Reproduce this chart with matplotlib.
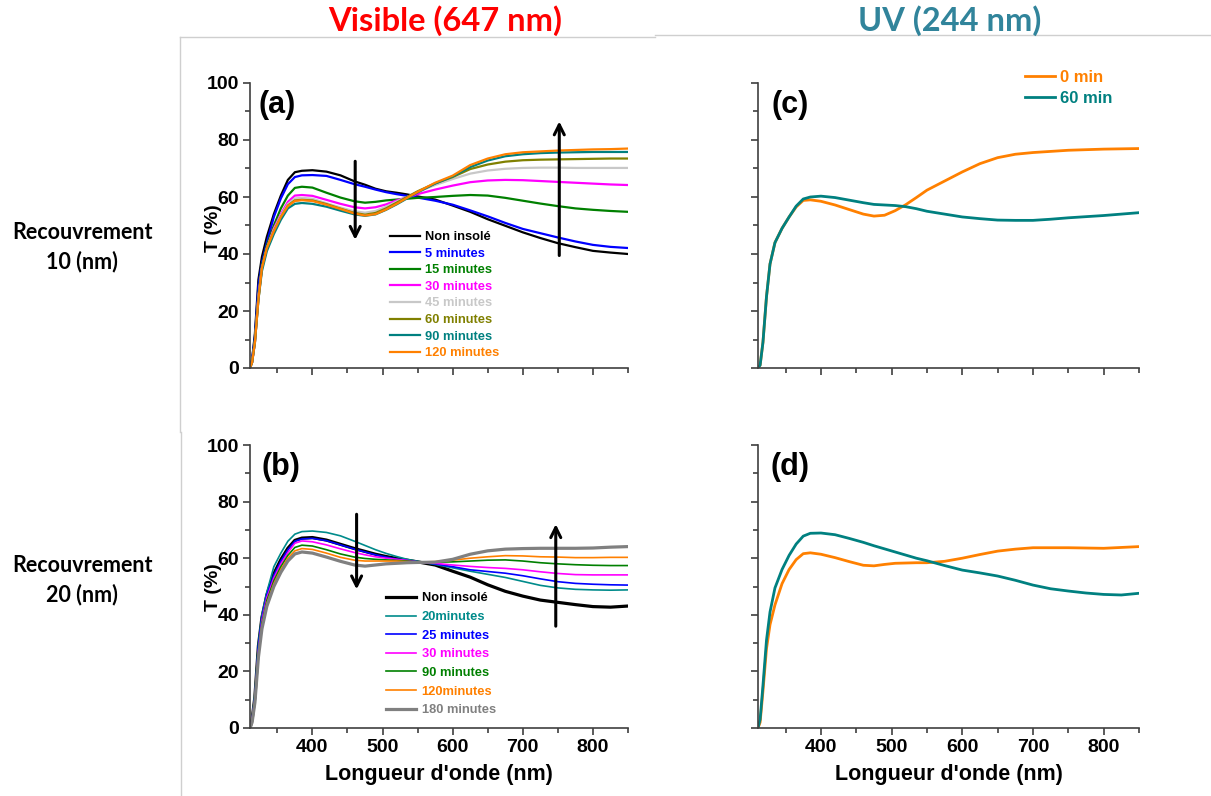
import matplotlib
matplotlib.use("Agg")
import matplotlib.pyplot as plt
from matplotlib.lines import Line2D

plt.rcParams['font.family'] = ['Liberation Sans', 'DejaVu Sans']
plt.rcParams['font.weight'] = 'bold'

# wavelength grid (nm) used for all curves
wl = [311, 314, 318, 323, 328, 335, 345, 355, 365, 375, 385, 400, 420, 440, 460, 475,
      490, 505, 520, 535, 550, 575, 600, 625, 650, 675, 700, 725, 750, 775, 800, 825, 850]

# panel (a): visible, 10 nm
a_labels = ["Non insolé", "5 minutes", "15 minutes", "30 minutes", "45 minutes",
            "60 minutes", "90 minutes", "120 minutes"]
a_colors = ["#000000", "#0000ff", "#008000", "#ff00ff", "#c8c8c8", "#808000", "#008080", "#ff8000"]
a_black = [0, 3, 12, 31, 39, 46, 54, 60.5, 66, 68.7, 69.2, 69.4, 68.9, 67.6, 65.5, 64.3,
           62.9, 62.0, 61.5, 60.9, 60.2, 59.1, 57.0, 54.8, 52.2, 49.9, 47.6, 45.6, 43.8, 42.4, 41.1, 40.5, 40.0]
a_5 = [0, 3, 11, 29, 37, 44, 53, 59.5, 64.5, 67.0, 67.6, 67.7, 67.4, 66.0, 64.5, 63.6,
       62.6, 61.7, 61.0, 60.4, 59.8, 58.7, 57.3, 55.3, 53.2, 50.9, 48.8, 47.3, 45.8, 44.4, 43.2, 42.5, 42.1]
a_15 = [0, 2, 10, 26, 36, 43, 50, 56, 60.5, 63.2, 63.6, 63.3, 61.5, 59.8, 58.5, 58.0,
        58.3, 58.8, 59.1, 59.4, 59.7, 60.0, 60.4, 60.7, 60.5, 59.7, 58.7, 57.7, 56.8, 56.0, 55.5, 55.1, 54.8]
a_30 = [0, 2, 9, 25, 35, 42, 49, 54, 58.3, 60.5, 60.7, 60.4, 59.0, 57.6, 56.4, 56.0,
        56.4, 57.4, 58.8, 59.9, 61.0, 62.6, 64.0, 65.2, 65.8, 66.0, 65.9, 65.6, 65.3, 65.0, 64.7, 64.4, 64.2]
a_45 = [0, 2, 9, 25, 35, 42, 48.5, 53.5, 57.5, 59.5, 59.7, 59.4, 57.8, 56.3, 55.0, 54.5,
        55.1, 56.6, 58.4, 60.0, 61.8, 64.2, 66.3, 68.2, 69.3, 69.9, 70.2, 70.3, 70.3, 70.2, 70.2, 70.2, 70.2]
a_60 = [0, 2, 9, 24, 35, 42, 48, 53, 57, 58.8, 59.0, 58.8, 57.5, 55.9, 54.4, 53.8,
        54.4, 56.0, 58.0, 60.0, 62.0, 64.8, 67.0, 69.8, 71.4, 72.4, 72.9, 73.1, 73.2, 73.3, 73.4, 73.5, 73.5]
a_90 = [0, 2, 9, 24, 34, 41, 47, 52, 56, 57.6, 57.9, 57.6, 56.6, 55.2, 53.9, 53.4,
        53.9, 55.5, 57.4, 59.5, 61.6, 64.7, 67.2, 70.5, 72.8, 74.3, 75.0, 75.4, 75.6, 75.7, 75.8, 75.8, 75.8]
a_120 = [0, 2, 9, 24, 35, 42, 48, 53, 56.8, 58.6, 58.9, 58.6, 57.3, 55.8, 54.2, 53.5,
         54.0, 55.6, 57.6, 59.7, 61.8, 65.0, 67.5, 71.2, 73.5, 75.0, 75.7, 76.0, 76.3, 76.5, 76.7, 76.8, 77.0]

# panel (b): visible, 20 nm
b_labels = ["Non insolé", "20minutes", "25 minutes", "30 minutes", "90 minutes",
            "120minutes", "180 minutes"]
b_colors = ["#000000", "#008b8b", "#0000ff", "#ff00ff", "#008000", "#ff8000", "#808080"]
b_widths = [2.3, 1.2, 1.2, 1.2, 1.2, 1.2, 2.3]
b_black = [0, 3, 11, 29, 39, 47, 54.5, 59.5, 63.5, 66.3, 67.1, 67.3, 66.4, 64.9, 63.4, 62.4,
           61.4, 60.6, 59.9, 59.3, 58.7, 57.6, 55.4, 53.3, 50.6, 48.3, 46.6, 45.2, 44.4, 43.6, 42.9, 42.7, 43.1]
b_20 = [0, 3, 12, 30, 40, 48, 57, 61.8, 66, 68.5, 69.4, 69.6, 69.1, 67.9, 66.0, 64.5,
        63.0, 61.7, 60.6, 59.6, 58.9, 57.8, 56.6, 55.4, 54.3, 53.2, 51.8, 50.4, 49.5, 49.0, 48.8, 48.7, 48.8]
b_25 = [0, 3, 11, 29, 39, 47, 54, 59, 63, 66, 66.8, 67.0, 66.2, 64.7, 63.2, 62.2,
        61.2, 60.4, 59.7, 59.2, 58.7, 58.0, 57.0, 55.9, 55.3, 54.7, 53.8, 52.7, 51.7, 51.1, 50.8, 50.6, 50.5]
b_30 = [0, 3, 10, 27, 38, 46, 53, 58, 62, 65.3, 66.1, 65.8, 64.7, 63.3, 62.0, 61.2,
        60.5, 60.0, 59.6, 59.2, 58.7, 58.2, 57.6, 57.1, 56.7, 56.4, 55.9, 55.2, 54.6, 54.2, 54.1, 54.1, 54.1]
b_90 = [0, 2, 10, 26, 37, 45, 52, 57, 61, 63.8, 64.6, 64.3, 63.0, 61.5, 60.4, 59.9,
        59.6, 59.4, 59.2, 59.0, 58.7, 58.6, 58.7, 59.0, 59.3, 59.4, 59.0, 58.4, 58.0, 57.7, 57.5, 57.4, 57.4]
b_120 = [0, 2, 9, 25, 36, 44, 51, 56, 60, 62.6, 63.4, 63.1, 61.8, 60.3, 59.3, 59.0,
         59.0, 59.0, 59.0, 58.8, 58.6, 58.8, 59.3, 60.0, 60.5, 60.9, 60.8, 60.5, 60.4, 60.2, 60.2, 60.3, 60.3]
b_180 = [0, 2, 9, 25, 35, 43, 50, 55, 59, 61.5, 62.2, 61.8, 60.4, 58.9, 57.6, 57.2,
         57.6, 58.0, 58.2, 58.4, 58.5, 58.6, 59.6, 61.4, 62.6, 63.2, 63.4, 63.5, 63.5, 63.5, 63.6, 63.9, 64.1]

# panels (c), (d): UV
uv_labels = ["0 min", "60 min"]
uv_colors = ["#ff8000", "#008080"]
c_0 = [0, 1, 9, 25, 36.5, 44, 49, 53, 56.5, 58.8, 59.0, 58.5, 57.2, 55.6, 54.0, 53.3,
       53.6, 55.2, 57.3, 59.8, 62.4, 65.6, 68.8, 71.7, 73.8, 75.0, 75.6, 76.0, 76.4, 76.6, 76.8, 76.9, 77.0]
c_60 = [0, 1, 9, 25, 36.5, 44, 49, 53, 56.8, 59.3, 60.0, 60.3, 59.8, 58.9, 58.0, 57.4,
        57.2, 57.0, 56.6, 55.9, 55.0, 54.0, 53.0, 52.4, 51.9, 51.8, 51.8, 52.2, 52.7, 53.1, 53.5, 54.0, 54.5]
d_0 = [0, 2, 13, 28, 36.5, 43.5, 51, 56, 59.5, 61.6, 61.9, 61.4, 60.2, 58.8, 57.5, 57.3,
       57.8, 58.2, 58.3, 58.4, 58.4, 58.9, 60.0, 61.3, 62.5, 63.2, 63.7, 63.7, 63.7, 63.6, 63.5, 63.8, 64.1]
d_60 = [0, 3, 15, 31, 41, 49.5, 56, 61, 65, 67.8, 68.8, 68.9, 68.3, 67.0, 65.6, 64.4,
        63.3, 62.2, 61.1, 60.0, 59.1, 57.4, 55.8, 54.8, 53.7, 52.2, 50.5, 49.2, 48.4, 47.7, 47.2, 47.0, 47.6]

W, H = 1211, 796


def px_axes(x0, y0, x1, y1):
    return [x0 / W, 1 - y1 / H, (x1 - x0) / W, (y1 - y0) / H]


def style_axes(ax, xlabels=True, ylabels=True):
    ax.set_xlim(311, 850)
    ax.set_ylim(0, 100)
    for s in ["top", "right"]:
        ax.spines[s].set_visible(False)
    for s in ["left", "bottom"]:
        ax.spines[s].set_color("#404040")
        ax.spines[s].set_linewidth(1.2)
    ax.set_xticks([400, 500, 600, 700, 800])
    ax.set_xticks([350, 450, 550, 650, 750, 850], minor=True)
    ax.set_yticks([0, 20, 40, 60, 80, 100])
    ax.set_yticks([10, 30, 50, 70, 90], minor=True)
    ax.tick_params(which="major", direction="out", length=5, width=1.2, color="#404040",
                   labelsize=14, pad=3)
    ax.tick_params(which="minor", direction="out", length=3.5, width=1.2, color="#404040")
    if not xlabels:
        ax.set_xticklabels([])
    if not ylabels:
        ax.set_yticklabels([])
    for lab in ax.get_xticklabels() + ax.get_yticklabels():
        lab.set_fontweight("bold")


fig = plt.figure(figsize=(W / 100, H / 100), dpi=100)

ax_a = fig.add_axes(px_axes(250, 83, 628, 368))
ax_c = fig.add_axes(px_axes(758, 83, 1139, 368))
ax_b = fig.add_axes(px_axes(250, 445, 628, 728))
ax_d = fig.add_axes(px_axes(758, 445, 1139, 728))

arrow = dict(arrowstyle="->", lw=2.2, color="black", mutation_scale=18)

# (a)
for t, lab, col in zip([a_black, a_5, a_15, a_30, a_45, a_60, a_90, a_120], a_labels, a_colors):
    ax_a.plot(wl, t, color=col, lw=1.6, label=lab)
style_axes(ax_a, xlabels=False)
ax_a.set_ylabel("T (%)", fontsize=14, fontweight="bold")
ax_a.yaxis.set_label_coords(-0.074, 0.49)
ax_a.legend(loc="upper left", bbox_to_anchor=(0.37, 0.480), frameon=False,
            handlelength=2.3, handletextpad=0.45, labelspacing=0.35,
            borderpad=0, borderaxespad=0, labelcolor="linecolor",
            prop={"weight": "bold", "size": 9.3})
ax_a.annotate("", xy=(461, 44), xytext=(461, 73.5), arrowprops=arrow)
ax_a.annotate("", xy=(752, 87.5), xytext=(752, 38.5), arrowprops=arrow)

# (b)
for t, lab, col, lw in zip([b_black, b_20, b_25, b_30, b_90, b_120, b_180], b_labels, b_colors, b_widths):
    ax_b.plot(wl, t, color=col, lw=lw, label=lab)
style_axes(ax_b)
ax_b.set_ylabel("T (%)", fontsize=14, fontweight="bold")
ax_b.yaxis.set_label_coords(-0.074, 0.498)
ax_b.set_xlabel("Longueur d'onde (nm)", fontsize=15.5, fontweight="bold", labelpad=6)
ax_b.legend(loc="upper left", bbox_to_anchor=(0.36, 0.479), frameon=False,
            handlelength=2.3, handletextpad=0.45, labelspacing=0.51,
            borderpad=0, borderaxespad=0, labelcolor="linecolor",
            prop={"weight": "bold", "size": 9.3})
ax_b.annotate("", xy=(463, 48), xytext=(463, 76.5), arrowprops=arrow)
ax_b.annotate("", xy=(747, 73), xytext=(747, 35), arrowprops=arrow)

# (c)
for t, lab, col in zip([c_0, c_60], uv_labels, uv_colors):
    ax_c.plot(wl, t, color=col, lw=2, label=lab)
style_axes(ax_c, xlabels=False, ylabels=False)
ax_c.legend(loc="upper left", bbox_to_anchor=(0.70, 1.045), frameon=False,
            handlelength=1.8, handletextpad=0.3, labelspacing=0.35,
            borderpad=0, borderaxespad=0, labelcolor="linecolor",
            prop={"weight": "bold", "size": 12})

# (d)
for t, lab, col in zip([d_0, d_60], uv_labels, uv_colors):
    ax_d.plot(wl, t, color=col, lw=2, label=lab)
style_axes(ax_d, ylabels=False)
ax_d.set_xlabel("Longueur d'onde (nm)", fontsize=15.5, fontweight="bold", labelpad=6)

# panel letters
for x, y, s in [(277, 105, "(a)"), (281, 467, "(b)"), (790, 105, "(c)"), (790, 467, "(d)")]:
    fig.text(x / W, 1 - y / H, s, fontsize=22, fontweight="bold", ha="center", va="center")

# column titles and row labels
fig.text(445 / W, 1 - 21 / H, "Visible (647 nm)", color="#ff0000", fontsize=23.5,
         fontweight="bold", family="Lato", ha="center", va="center")
fig.text(950 / W, 1 - 21 / H, "UV (244 nm)", color="#31849b", fontsize=23.5,
         fontweight="bold", family="Lato", ha="center", va="center")
fig.text(82 / W, 1 - 247 / H, "Recouvrement\n10 (nm)", fontsize=15.5, fontweight="bold",
         family="Lato", ha="center", va="center", linespacing=1.45)
fig.text(82 / W, 1 - 580 / H, "Recouvrement\n20 (nm)", fontsize=15.5, fontweight="bold",
         family="Lato", ha="center", va="center", linespacing=1.45)

# faint frame lines from the original slide
frame = "#cfcfcf"
fig.add_artist(Line2D([180 / W, 655 / W], [1 - 37 / H, 1 - 37 / H], color=frame, lw=1))
fig.add_artist(Line2D([655 / W, 1], [1 - 35 / H, 1 - 35 / H], color=frame, lw=1))
fig.add_artist(Line2D([180 / W, 180 / W], [1 - 37 / H, 1 - 432 / H], color=frame, lw=1))
fig.add_artist(Line2D([181 / W, 181 / W], [1 - 432 / H, 0], color=frame, lw=1))

fig.savefig("out.png", dpi=100)
